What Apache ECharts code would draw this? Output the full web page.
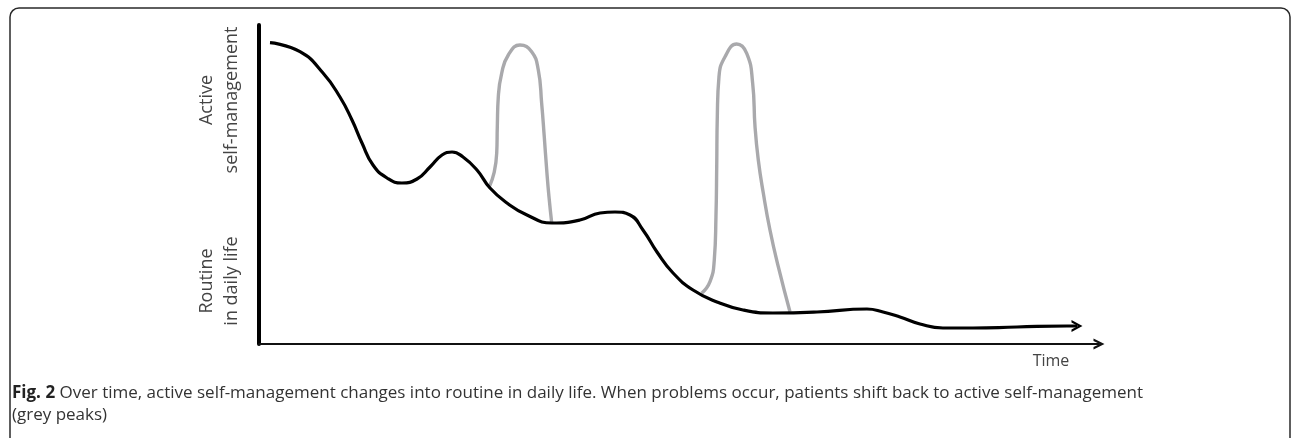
<!DOCTYPE html>
<html>
<head>
<meta charset="utf-8">
<script src="https://cdn.jsdelivr.net/npm/echarts@6/dist/echarts.min.js"></script>
<style>
  html, body { margin: 0; padding: 0; background: #fff; }
  #chart { width: 1292px; height: 438px; }
</style>
</head>
<body>
<div id="chart"></div>
<script>
// main curve: [time, level], time 0-100, level 0-100
const mainCurve = [
  [1.31, 94.45], [4.88, 91.63], [7.62, 84.95], [9.64, 77.43], [11.07, 70.22], [12.26, 63.01],
  [13.57, 56.11], [15.24, 52.04], [17.02, 50.47], [18.81, 51.72], [20.36, 55.49], [21.79, 59.25],
  [22.98, 60.19], [24.29, 58.62], [25.95, 54.55], [27.50, 48.90], [29.52, 44.20], [31.90, 40.44],
  [34.88, 37.93], [38.21, 38.87], [40.60, 41.07], [42.38, 41.38], [44.17, 40.44], [45.71, 35.74],
  [47.38, 28.84], [49.29, 22.26], [51.67, 16.93], [54.52, 13.17], [57.62, 10.66], [61.19, 9.72],
  [66.43, 10.03], [72.38, 10.97], [74.29, 10.03], [76.31, 8.46], [78.69, 6.27], [81.43, 5.02],
  [85.00, 5.02], [90.24, 5.33], [96.19, 5.64], [97.38, 5.64]
];
// grey peaks (problems -> back to active self-management)
const peak1 = [
  [27.42, 49.31], [27.98, 53.61], [28.30, 59.87], [28.37, 68.12], [28.49, 77.52], [28.89, 84.86],
  [29.68, 90.60], [31.07, 93.73], [32.46, 91.63], [33.25, 85.89], [33.65, 75.45], [33.96, 64.98],
  [34.25, 54.55], [34.52, 46.18], [34.85, 37.84]
];
const peak2 = [
  [52.70, 15.89], [53.69, 19.53], [54.20, 26.33], [54.40, 39.91], [54.49, 55.58], [54.56, 71.25],
  [54.76, 83.79], [55.48, 90.06], [56.87, 94.04], [58.06, 91.13], [58.77, 81.72], [59.05, 68.12],
  [59.44, 57.68], [60.04, 47.24], [60.83, 35.74], [61.82, 24.23], [63.21, 10.13]
];
const yLabelTop = 'Active\nself-management';
const yLabelBottom = 'Routine\nin daily life';
const xLabel = 'Time';
const captionLine1 = 'Over time, active self-management changes into routine in daily life. When problems occur, patients shift back to active self-management';
const captionLine2 = '(grey peaks)';

const chevronUp = 'path://M0,12 L6,0 L12,12 L9.4,12 L6,5 L2.6,12 Z';
const chevronRight = 'path://M0,0 L12,6 L0,12 L0,9.4 L7,6 L0,2.6 Z';

const chart = echarts.init(document.getElementById('chart'));
const font = '"Open Sans", "Noto Sans", sans-serif';

// last point of main curve gets the arrow head
const mainData = mainCurve.map((p, i) => i === mainCurve.length - 1
  ? { value: p, symbol: chevronRight, symbolSize: [11, 12] }
  : { value: p });

const option = {
  animation: false,
  grid: { left: 259, right: 193, top: 25, bottom: 94 },
  xAxis: {
    type: 'value', min: 0, max: 100,
    axisLine: { show: true, symbol: ['none', chevronUp], symbolSize: [11, 12],
      lineStyle: { color: '#111', width: 2 } },
    axisTick: { show: false }, axisLabel: { show: false }, splitLine: { show: false }
  },
  yAxis: {
    type: 'value', min: 0, max: 100,
    axisLine: { show: true, lineStyle: { color: '#000', width: 4 } },
    axisTick: { show: false }, axisLabel: { show: false }, splitLine: { show: false }
  },
  series: [
    {
      type: 'line', data: peak1, smooth: 0.5, symbol: 'none',
      lineStyle: { color: '#a9a9ac', width: 3.4 }, z: 2
    },
    {
      type: 'line', data: peak2, smooth: 0.5, symbol: 'none',
      lineStyle: { color: '#a9a9ac', width: 3.4 }, z: 2
    },
    {
      type: 'line', data: mainData, smooth: 0.5, symbol: 'none',
      itemStyle: { color: '#000' },
      lineStyle: { color: '#000', width: 3.2 }, z: 3
    }
  ],
  graphic: [
    { type: 'rect', shape: { x: 10, y: 8, width: 1280, height: 460, r: 9 },
      style: { fill: 'none', stroke: '#2a2a2a', lineWidth: 1.5 }, silent: true },
    { type: 'text', x: 219, y: 100, rotation: Math.PI / 2,
      style: { text: yLabelTop, font: '18px ' + font, fill: '#444',
        align: 'center', verticalAlign: 'middle', lineHeight: 25 } },
    { type: 'text', x: 219, y: 281, rotation: Math.PI / 2,
      style: { text: yLabelBottom, font: '18px ' + font, fill: '#444',
        align: 'center', verticalAlign: 'middle', lineHeight: 25 } },
    { type: 'text', x: 1051, y: 361,
      style: { text: xLabel, font: '16px ' + font, fill: '#444',
        align: 'center', verticalAlign: 'middle' } },
    { type: 'text', x: 12, y: 393,
      style: { text: '{b|Fig. 2} ' + captionLine1, fill: '#333',
        font: '17px ' + font, verticalAlign: 'middle',
        rich: { b: { fontWeight: 'bold', fontSize: 17, fontFamily: font, fill: '#222' } } } },
    { type: 'text', x: 12, y: 415,
      style: { text: captionLine2, font: '17px ' + font, fill: '#333', verticalAlign: 'middle' } }
  ]
};
chart.setOption(option);
</script>
</body>
</html>
